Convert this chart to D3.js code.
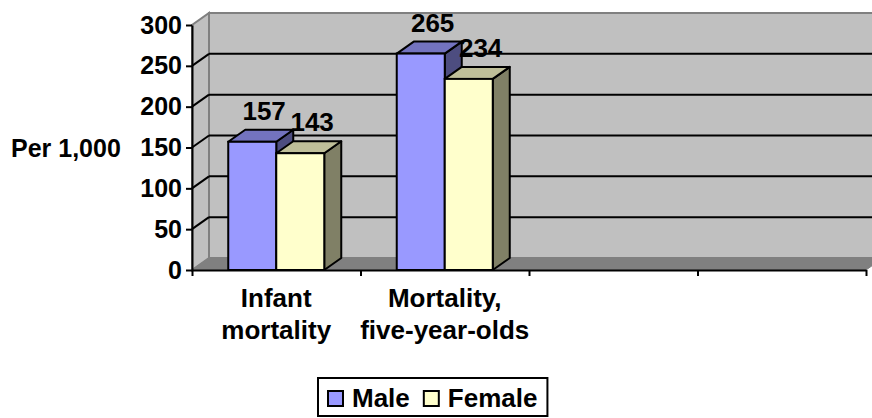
<!DOCTYPE html>
<html>
<head>
<meta charset="utf-8">
<script src="https://cdn.jsdelivr.net/npm/d3@7"></script>
<style>
  body { margin: 0; background: #fff; }
  text { font-family: "Liberation Sans", Arial, sans-serif; font-weight: bold; fill: #000; }
</style>
</head>
<body>
<div class="canvas"></div>
<script>
// chart data
const categories = [['Infant', 'mortality'], ['Mortality,', 'five-year-olds'], [], []];
const seriesNames = ['Male', 'Female'];
const male = [157, 265];
const female = [143, 234];
const yTicks = [0, 50, 100, 150, 200, 250, 300];
const yTitle = 'Per 1,000';

const colors = {
  Male: { front: '#9999ff', top: '#7373bf', side: '#4d4d80' },
  Female: { front: '#ffffcc', top: '#bfbf99', side: '#808066' }
};

const width = 872, height = 418;
const margin = { top: 25, right: 6, bottom: 148, left: 192 };
const graphWidth = width - margin.left - margin.right;
const graphHeight = height - margin.top - margin.bottom;
const depth = { x: 17, y: -12 };

const svg = d3.select('.canvas')
  .append('svg')
  .attr('width', width)
  .attr('height', height);

const graph = svg.append('g')
  .attr('transform', `translate(${margin.left}, ${margin.top})`);

const y = d3.scaleLinear()
  .domain([0, 300])
  .range([graphHeight, 0]);

const x = d3.scaleBand()
  .domain(d3.range(categories.length))
  .range([0, graphWidth]);

const xSeries = d3.scaleBand()
  .domain(d3.range(seriesNames.length))
  .range([0, x.bandwidth()])
  .paddingOuter(0.755);

const xEdge = d3.scaleLinear()
  .domain([0, categories.length])
  .range([0, graphWidth]);

const pts = arr => arr.map(p => p.join(',')).join(' ');
const dx = depth.x, dy = depth.y;

// walls
graph.append('polygon') // back wall
  .attr('points', pts([[dx, dy], [graphWidth + dx, dy], [graphWidth + dx, graphHeight + dy], [dx, graphHeight + dy]]))
  .attr('fill', '#c0c0c0')
  .attr('stroke', '#808080')
  .attr('stroke-width', 2);

graph.append('polygon') // left wall
  .attr('points', pts([[0, graphHeight], [0, 0], [dx, dy], [dx, graphHeight + dy]]))
  .attr('fill', '#c0c0c0')
  .attr('stroke', '#808080')
  .attr('stroke-width', 2);

graph.append('polygon') // floor
  .attr('points', pts([[0, graphHeight], [graphWidth, graphHeight], [graphWidth + dx, graphHeight + dy], [dx, graphHeight + dy]]))
  .attr('fill', '#808080')
  .attr('stroke', '#808080')
  .attr('stroke-width', 1);

// gridlines
const grid = yTicks.filter(t => t > 0 && t < 300);
graph.selectAll('.grid-back')
  .data(grid)
  .enter().append('line')
  .attr('x1', dx).attr('x2', graphWidth + dx)
  .attr('y1', d => y(d) + dy).attr('y2', d => y(d) + dy)
  .attr('stroke', '#000')
  .attr('stroke-width', 2);

graph.selectAll('.grid-side')
  .data(grid)
  .enter().append('line')
  .attr('x1', 0).attr('x2', dx)
  .attr('y1', d => y(d)).attr('y2', d => y(d) + dy)
  .attr('stroke', '#000')
  .attr('stroke-width', 2);

// bars
const bars = [];
categories.forEach((c, i) => {
  if (male[i] === undefined) return;
  bars.push({ cat: i, s: 0, v: male[i] });
  bars.push({ cat: i, s: 1, v: female[i] });
});

bars.forEach(d => {
  const x0 = x(d.cat) + xSeries(d.s);
  const w = xSeries.bandwidth();
  const top = y(d.v);
  const bottom = y(0);
  const col = colors[seriesNames[d.s]];
  const g = graph.append('g');

  g.append('polygon')
    .attr('points', pts([[x0 + w, top], [x0 + w + dx, top + dy], [x0 + w + dx, bottom + dy], [x0 + w, bottom]]))
    .attr('fill', col.side)
    .attr('stroke', '#000')
    .attr('stroke-width', 2)
    .attr('stroke-linejoin', 'round');

  g.append('polygon')
    .attr('points', pts([[x0, top], [x0 + dx, top + dy], [x0 + w + dx, top + dy], [x0 + w, top]]))
    .attr('fill', col.top)
    .attr('stroke', '#000')
    .attr('stroke-width', 2)
    .attr('stroke-linejoin', 'round');

  g.append('rect')
    .attr('x', x0)
    .attr('y', top)
    .attr('width', w)
    .attr('height', bottom - top)
    .attr('fill', col.front)
    .attr('stroke', '#000')
    .attr('stroke-width', 2);
});

// data labels
graph.selectAll('.label')
  .data(bars)
  .enter().append('text')
  .attr('class', 'label')
  .attr('x', d => x(d.cat) + xSeries(d.s) + xSeries.bandwidth() / 2 + dx * 0.7)
  .attr('y', d => y(d.v) + dy - 10)
  .attr('text-anchor', 'middle')
  .attr('font-size', 26)
  .text(d => d.v);

// axes
const yAxis = d3.axisLeft(y)
  .tickValues(yTicks)
  .tickSize(6)
  .tickSizeOuter(0)
  .tickPadding(4);

const yAxisGroup = graph.append('g').call(yAxis);
yAxisGroup.selectAll('path, line').attr('stroke', '#000').attr('stroke-width', 2);
yAxisGroup.selectAll('text')
  .attr('font-size', 25)
  .attr('font-family', '"Liberation Sans", Arial, sans-serif')
  .attr('font-weight', 'bold');

const xAxis = d3.axisBottom(xEdge)
  .tickValues(d3.range(categories.length + 1))
  .tickSize(6)
  .tickSizeOuter(0)
  .tickFormat('');

const xAxisGroup = graph.append('g')
  .attr('transform', `translate(0, ${graphHeight})`)
  .call(xAxis);
xAxisGroup.selectAll('path, line').attr('stroke', '#000').attr('stroke-width', 2);

// category labels
categories.forEach((lines, i) => {
  lines.forEach((t, k) => {
    graph.append('text')
      .attr('x', x(i) + x.bandwidth() / 2)
      .attr('y', graphHeight + 37 + k * 32)
      .attr('text-anchor', 'middle')
      .attr('font-size', 26)
      .text(t);
  });
});

// y title
svg.append('text')
  .attr('x', 11)
  .attr('y', margin.top + y(150))
  .attr('dy', '0.36em')
  .attr('font-size', 25)
  .text(yTitle);

// legend
const legend = svg.append('g').attr('transform', 'translate(318, 378)');
const legendBox = legend.append('rect')
  .attr('height', 38)
  .attr('fill', '#fff')
  .attr('stroke', '#000')
  .attr('stroke-width', 2);

let lx = 10;
seriesNames.forEach(name => {
  legend.append('rect')
    .attr('x', lx).attr('y', 13)
    .attr('width', 15).attr('height', 15)
    .attr('fill', colors[name].front)
    .attr('stroke', '#000')
    .attr('stroke-width', 2);
  const t = legend.append('text')
    .attr('x', lx + 24)
    .attr('y', 29)
    .attr('font-size', 26)
    .text(name);
  lx += 24 + t.node().getComputedTextLength() + 14;
});
legendBox.attr('width', lx - 4);
</script>
</body>
</html>
